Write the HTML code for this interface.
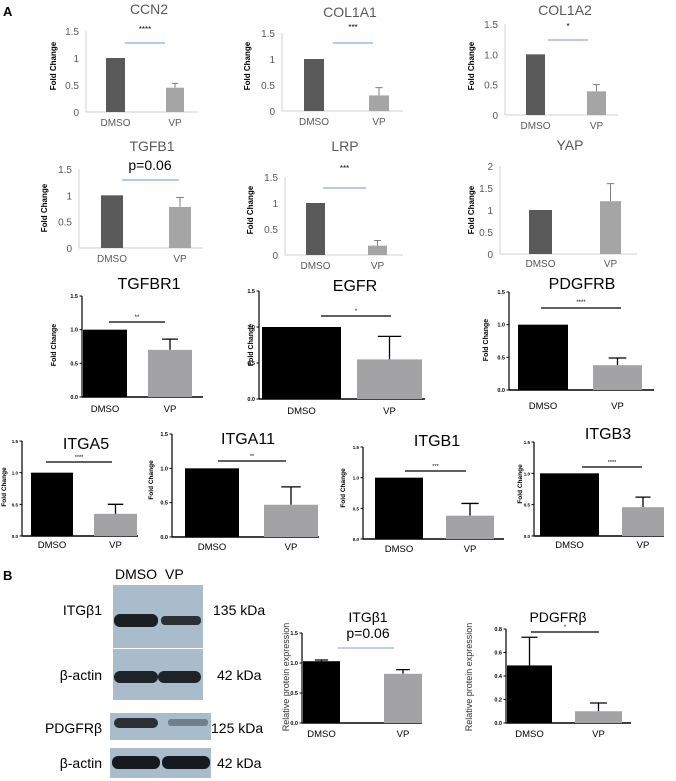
<!DOCTYPE html>
<html><head><meta charset="utf-8">
<style>
html,body{margin:0;padding:0;background:#fff;}
svg{display:block;font-family:"Liberation Sans",sans-serif;}
</style></head>
<body>
<svg id="fig" width="676" height="781" viewBox="0 0 676 781" xmlns="http://www.w3.org/2000/svg">
<text x="3" y="16" font-size="13" font-weight="bold">A</text>
<text x="3" y="580" font-size="13" font-weight="bold">B</text>
<g id="blots">
  <text x="115" y="579" font-size="14">DMSO</text>
  <text x="165" y="579" font-size="14">VP</text>
  <rect x="113" y="585" width="90" height="63" fill="#a9bccb"/>
  <rect x="113" y="649" width="90" height="51" fill="#a9bccb"/>
  <rect x="110" y="713" width="101" height="27" fill="#a9bccb"/>
  <rect x="110" y="748" width="101" height="30" fill="#a9bccb"/>
  <rect x="114" y="614" width="44" height="13" rx="6" fill="#1a1f24"/>
  <rect x="161" y="616" width="40" height="9" rx="4" fill="#2a3036"/>
  <rect x="114" y="671" width="44" height="12" rx="6" fill="#1e2328"/>
  <rect x="158" y="671" width="43" height="12" rx="6" fill="#1e2328"/>
  <rect x="114" y="718" width="44" height="10" rx="5" fill="#2a3036"/>
  <rect x="168" y="719" width="40" height="7" rx="3" fill="#6f7f8c"/>
  <rect x="112" y="756" width="48" height="13" rx="6" fill="#151a1f"/>
  <rect x="162" y="756" width="48" height="13" rx="6" fill="#151a1f"/>
  <text x="102" y="615" font-size="14" text-anchor="end">ITGβ1</text>
  <text x="102" y="680" font-size="14" text-anchor="end">β-actin</text>
  <text x="102" y="733" font-size="14" text-anchor="end">PDGFRβ</text>
  <text x="102" y="768" font-size="14" text-anchor="end">β-actin</text>
  <text x="213" y="615" font-size="14">135 kDa</text>
  <text x="217" y="680" font-size="14">42 kDa</text>
  <text x="211" y="733" font-size="14">125 kDa</text>
  <text x="217" y="768" font-size="14">42 kDa</text>
</g>
</svg>
<script>
const categories = ['DMSO', 'VP'];
const ccn2Values = [1.0, 0.45];   const ccn2Errors = [0, 0.08];
const col1a1Values = [1.0, 0.30]; const col1a1Errors = [0, 0.15];
const col1a2Values = [1.0, 0.39]; const col1a2Errors = [0, 0.11];
const tgfb1Values = [1.0, 0.78];  const tgfb1Errors = [0, 0.18];
const lrpValues = [1.0, 0.18];    const lrpErrors = [0, 0.10];
const yapValues = [1.0, 1.20];    const yapErrors = [0, 0.40];
const tgfbr1Values = [1.0, 0.70]; const tgfbr1Errors = [0, 0.16];
const egfrValues = [1.0, 0.55];   const egfrErrors = [0, 0.32];
const pdgfrbValues = [1.0, 0.38]; const pdgfrbErrors = [0, 0.11];
const itga5Values = [1.0, 0.35];  const itga5Errors = [0, 0.15];
const itga11Values = [1.0, 0.47]; const itga11Errors = [0, 0.26];
const itgb1Values = [1.0, 0.38];  const itgb1Errors = [0, 0.20];
const itgb3Values = [1.0, 0.46];  const itgb3Errors = [0, 0.16];
const protItgb1Values = [1.03, 0.82]; const protItgb1Errors = [0.02, 0.07];
const protPdgfrbValues = [0.49, 0.10]; const protPdgfrbErrors = [0.24, 0.07];
const ticksExcel = ['0', '0.5', '1', '1.5'];
const ticksExcelAlt = ['0', '0.5', '1.0', '1.5'];
const ticksYap = ['0', '0.5', '1', '1.5', '2'];
const ticksPrism = ['0.0', '0.5', '1.0', '1.5'];
const ticksProt = ['0.0', '0.2', '0.4', '0.6', '0.8'];

const NS = 'http://www.w3.org/2000/svg';
const svg = document.getElementById('fig');
function mk(tag, attrs, parent, text) {
  const e = document.createElementNS(NS, tag);
  for (const k in attrs) e.setAttribute(k, attrs[k]);
  if (text !== undefined) e.textContent = text;
  parent.appendChild(e);
  return e;
}

function drawPanel(c, values, errors, ticks) {
  const g = mk('g', {}, svg);
  
  
  const excel = c.style === 'excel';
  const vmax = parseFloat(ticks[ticks.length - 1]);
  const y = v => c.y0 - (v / vmax) * (c.y0 - c.yTop);
  const axisCol = excel ? '#d0d0d0' : '#000';
  const t = mk('text', {x: c.tx, y: c.ty, 'font-size': c.tfs || 14, 'text-anchor': 'middle', fill: excel ? '#595959' : '#000'}, g, c.title);
  
  
  const yl = mk('text', {x: 0, y: 0, 'font-size': c.ylfs || 8, 'font-weight': c.ylbold === false ? 'normal' : 'bold', 'text-anchor': 'middle', fill: c.ylcol || '#000', transform: 'translate(' + c.ylx + ',' + c.yly + ') rotate(-90)'}, g, c.ylabel || 'Fold Change');
  
  
  const ya = mk('line', {x1: c.ax, x2: c.ax, y1: c.yTop, y2: c.y0, stroke: axisCol, 'stroke-width': excel ? 1 : 1.2}, g);
  
  
  const xa = mk('line', {x1: c.ax, x2: c.xEnd, y1: c.y0, y2: c.y0, stroke: axisCol, 'stroke-width': excel ? 1 : 1.5}, g);
  
  
  ticks.forEach(tk => {
    const v = parseFloat(tk);
    const tl = mk('text', {x: c.ax - (excel ? 7 : 4), y: y(v) + (excel ? 4 : 2), 'font-size': c.tkfs || (excel ? 10 : 5.5), 'font-weight': excel ? 'normal' : 'bold', 'text-anchor': 'end', fill: excel ? '#595959' : '#000'}, g, tk);
    
    
    if (!excel) {
      mk('line', {x1: c.ax - 2.5, x2: c.ax, y1: y(v), y2: y(v), stroke: '#000', 'stroke-width': 1}, g);
    }
  });
  const cols = excel ? ['#595959', '#a5a5a5'] : ['#000', '#a3a3a5'];
  values.forEach((v, i) => {
    const [x0, x1] = c.bars[i];
    const cx = (x0 + x1) / 2;
    if (errors[i] > 0) {
      const eb = mk('path', {d: 'M' + cx + ' ' + y(v) + 'V' + y(v + errors[i]) + 'M' + (cx - (x1 - x0) * 0.18) + ' ' + y(v + errors[i]) + 'H' + (cx + (x1 - x0) * 0.18), stroke: excel ? '#7f7f7f' : '#000', 'stroke-width': excel ? 1 : 1.3, fill: 'none'}, g);
      
      
    }
    const b = mk('rect', {x: x0, y: y(v), width: x1 - x0, height: c.y0 - y(v), fill: cols[i]}, g);
    
    
    const lb = mk('text', {x: cx + (c.lxo || 0), y: c.ly, 'font-size': c.lfs || (excel ? 10 : 9.5), 'text-anchor': 'middle', fill: excel ? '#595959' : '#000'}, g, categories[i]);
    
    
  });
  if (c.sig) {
    const sl = mk('line', {x1: c.sig[0], x2: c.sig[1], y1: c.sig[2], y2: c.sig[2], stroke: c.sigCol || (excel ? '#8eaadb' : '#000'), 'stroke-width': excel ? 1.2 : 1.3}, g);
    
    
  }
  if (c.star) {
    const st = mk('text', {x: c.starX || (c.sig[0] + c.sig[1]) / 2, y: c.starY, 'font-size': c.starFs || 8, 'text-anchor': 'middle', fill: '#000'}, g, c.star);
    
    
  }
}

drawPanel({id:'ccn2',style:'excel',title:'CCN2',tx:149,ty:14,ax:86,y0:112,yTop:31,xEnd:198,bars:[[106,125],[166,184]],ly:126,ylx:56,yly:66,sig:[125,165,43],star:'****',starY:32}, ccn2Values, ccn2Errors, ticksExcel);
drawPanel({id:'col1a1',style:'excel',title:'COL1A1',tx:350,ty:17,ax:282,y0:111,yTop:33,xEnd:403,bars:[[304,324],[369,389]],ly:125,ylx:250,yly:66,sig:[333,373,43],star:'***',starY:30}, col1a1Values, col1a1Errors, ticksExcel);
drawPanel({id:'col1a2',style:'excel',title:'COL1A2',tx:565,ty:15,ax:505,y0:115,yTop:24,xEnd:618,bars:[[526,545],[587,606]],ly:129,ylx:474,yly:66,sig:[548,588,40],star:'*',starY:29}, col1a2Values, col1a2Errors, ticksExcelAlt);
drawPanel({id:'tgfb1',style:'excel',title:'TGFB1',tx:152,ty:151,ax:79,y0:248,yTop:169,xEnd:203,bars:[[101,123],[169,191]],ly:262,ylx:47,yly:208,sig:[122,179,180],star:'p=0.06',starY:170,starFs:14,starX:150}, tgfb1Values, tgfb1Errors, ticksExcel);
drawPanel({id:'lrp',style:'excel',title:'LRP',tx:345,ty:151,ax:285,y0:255,yTop:177,xEnd:403,bars:[[306,325],[368,387]],ly:269,ylx:253,yly:210,sig:[323,366,188],star:'***',starY:171}, lrpValues, lrpErrors, ticksExcel);
drawPanel({id:'yap',style:'excel',title:'YAP',tx:570,ty:150,ax:500,y0:254,yTop:166,xEnd:637,bars:[[529,552],[600,621]],ly:267,ylx:474,yly:210}, yapValues, yapErrors, ticksYap);

drawPanel({id:'tgfbr1',style:'prism',title:'TGFBR1',tx:149,ty:289,tfs:16,ax:82,y0:397,yTop:296,xEnd:203,bars:[[83,127],[148,192]],ly:412,ylx:56,yly:345,ylfs:7,sig:[109,165,322],star:'**',starY:319,starFs:6}, tgfbr1Values, tgfbr1Errors, ticksPrism);
drawPanel({id:'egfr',style:'prism',title:'EGFR',tx:355,ty:291,tfs:16,ax:259,y0:399,yTop:291,xEnd:425,bars:[[262,341],[357,422]],ly:414,ylx:253,yly:345,ylfs:7,sig:[321,391,316],star:'*',starY:313,starFs:6}, egfrValues, egfrErrors, ticksPrism);
drawPanel({id:'pdgfrb',style:'prism',title:'PDGFRB',tx:582,ty:289,tfs:16,ax:509,y0:390,yTop:292,xEnd:654,bars:[[518,568],[593,642]],ly:409,ylx:488,yly:340,ylfs:7,sig:[541,621,308],star:'****',starY:304,starFs:6}, pdgfrbValues, pdgfrbErrors, ticksPrism);

drawPanel({id:'itga5',style:'prism',title:'ITGA5',tx:86,ty:449,tfs:16,ax:22,y0:536,yTop:441,xEnd:138,bars:[[31,73],[94,137]],ly:548,ylx:6,yly:487,ylfs:6.5,tkfs:4.5,sig:[46,112,462],star:'****',starY:459,starFs:5.5}, itga5Values, itga5Errors, ticksPrism);
drawPanel({id:'itga11',style:'prism',title:'ITGA11',tx:248,ty:444,tfs:16,ax:172,y0:537,yTop:434,xEnd:319,bars:[[185,239],[264,318]],ly:550,ylx:153,yly:480,ylfs:6.5,sig:[218,286,461],star:'**',starY:458,starFs:5.5}, itga11Values, itga11Errors, ticksPrism);
drawPanel({id:'itgb1',style:'prism',title:'ITGB1',tx:437,ty:446,tfs:16,ax:363,y0:539,yTop:447,xEnd:504,bars:[[375,423],[446,494]],ly:552,ylx:345,yly:488,ylfs:6.5,tkfs:4.5,sig:[405,466,471],star:'***',starY:468,starFs:5.5}, itgb1Values, itgb1Errors, ticksPrism);
drawPanel({id:'itgb3',style:'prism',title:'ITGB3',tx:608,ty:439,tfs:16,ax:534,y0:536,yTop:442,xEnd:664,bars:[[540,599],[622,664]],ly:548,ylx:522,yly:484,ylfs:6.5,tkfs:4.5,sig:[582,642,467],star:'****',starY:464,starFs:5.5}, itgb3Values, itgb3Errors, ticksPrism);

drawPanel({id:'protein-itgb1',style:'prism',title:'ITGβ1',tx:368,ty:622,tfs:14,ax:302,y0:723,yTop:633,xEnd:422,bars:[[303,340],[384,422]],ly:737,ylx:289,yly:677,ylfs:9,ylbold:false,ylcol:'#333',ylabel:'Relative protein expression',sig:[338,394,648],sigCol:'#9bb3d8',star:'p=0.06',starX:368,starY:638,starFs:14}, protItgb1Values, protItgb1Errors, ticksPrism);
drawPanel({id:'protein-pdgfrb',style:'prism',title:'PDGFRβ',tx:558,ty:622,tfs:14,ax:506,y0:723,yTop:629,xEnd:631,bars:[[507,552],[575,622]],ly:737,ylx:472,yly:677,ylfs:9,ylbold:false,ylcol:'#333',ylabel:'Relative protein expression',sig:[531,599,632],star:'*',starY:629,starFs:6}, protPdgfrbValues, protPdgfrbErrors, ticksProt);
</script>
</body></html>
